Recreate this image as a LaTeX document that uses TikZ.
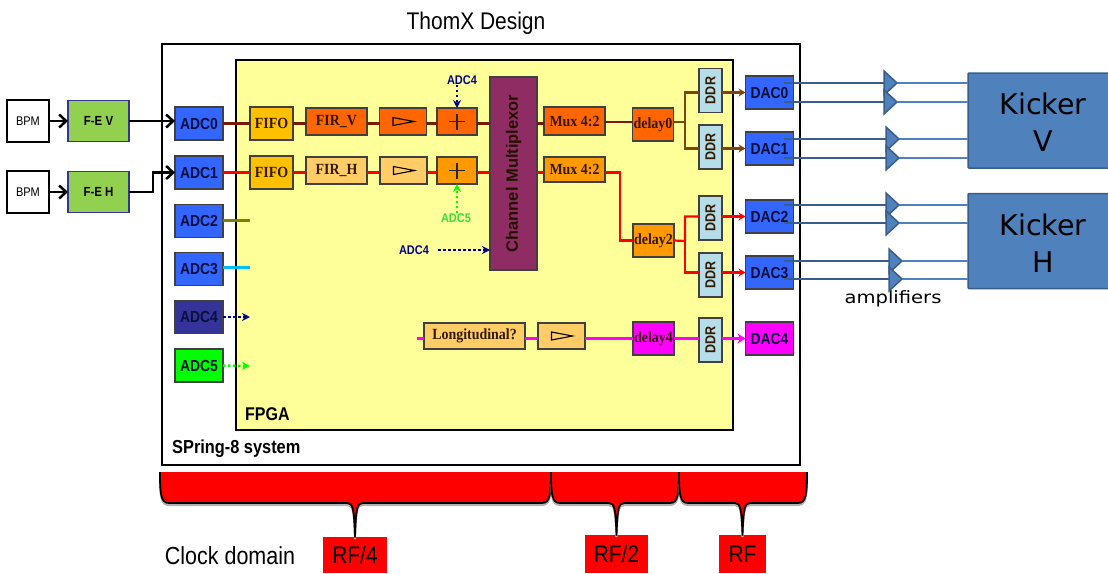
\documentclass[tikz,border=0pt]{standalone}
\usepackage{graphicx}
\usepackage{fontspec}
\setmainfont{Liberation Serif}[FakeStretch=0.9]
\setsansfont{Liberation Sans}[FakeStretch=0.87]
\newfontfamily\kickerfont{DejaVu Sans}
\newfontfamily\amplabelfont{DejaVu Sans}[FakeStretch=1.15]
\newfontfamily\chanfont{Liberation Sans}
\usetikzlibrary{arrows.meta, shapes.geometric}
\definecolor{myyellow1}{RGB}{255, 255, 153}
\definecolor{myblue1}{RGB}{51, 102, 255}
\definecolor{mynavy1}{RGB}{51, 51, 153}
\definecolor{mynavy2}{RGB}{0, 0, 140}
\definecolor{mygreen1}{RGB}{146, 208, 80}
\definecolor{mygreen2}{RGB}{0, 255, 0}
\definecolor{mygreen3}{RGB}{60, 220, 60}
\definecolor{myorange1}{RGB}{255, 102, 0}
\definecolor{myorange2}{RGB}{255, 153, 0}
\definecolor{myorange3}{RGB}{255, 204, 102}
\definecolor{mygold1}{RGB}{255, 192, 0}
\definecolor{mypurple1}{RGB}{144, 44, 100}
\definecolor{myddr1}{RGB}{183, 222, 232}
\definecolor{mysteel1}{RGB}{79, 129, 189}
\definecolor{mysteel2}{RGB}{56, 93, 138}
\definecolor{myinkblue1}{RGB}{10, 15, 60}
\definecolor{myink1}{RGB}{50, 25, 0}
\definecolor{mybrown1}{RGB}{122, 26, 0}
\definecolor{mybrown2}{RGB}{127, 70, 10}
\definecolor{mymagenta1}{RGB}{255, 0, 255}
\definecolor{myolive1}{RGB}{128, 128, 0}
\definecolor{mycyan1}{RGB}{0, 190, 240}
\definecolor{myred1}{RGB}{255, 0, 0}
\tikzset{
  box/.style={draw=black!75, line width=1.2, inner sep=0, outer sep=0},
  bpmbox/.style={box, draw=black, line width=2, fill=white, minimum width=42, minimum height=42, font=\sffamily\fontsize{12.6}{14}\selectfont},
  febox/.style={box, draw=mynavy1, line width=1.5, fill=mygreen1, minimum width=61, minimum height=41, font=\sffamily\bfseries\fontsize{13.2}{15}\selectfont},
  adcbox/.style={box, fill=myblue1, text=myinkblue1, minimum width=48, minimum height=33, font=\sffamily\bfseries\fontsize{16}{18}\selectfont},
  logicbox/.style={box, text=myink1, minimum height=27, font=\bfseries\fontsize{15.5}{18}\selectfont},
  ampbox/.style={box, minimum width=47, minimum height=27},
  plusbox/.style={box, minimum width=40, minimum height=27},
  delaybox/.style={logicbox, minimum width=41, minimum height=33},
  ddrbox/.style={box, fill=myddr1, text=myink1, minimum width=23, minimum height=44, font=\sffamily\bfseries\fontsize{14.4}{16}\selectfont},
  kickerbox/.style={draw=mysteel2, line width=1.5, fill=mysteel1, rounded corners=1, text=black, inner sep=0, outer sep=0, minimum width=150, minimum height=95, align=center, font=\kickerfont\fontsize{28.5}{37}\selectfont},
  ampli/.style={isosceles triangle, isosceles triangle stretches, draw=mysteel2, line width=1.5, fill=mysteel1, inner sep=0, outer sep=0, minimum width=24, minimum height=13, anchor=lower side},
  rfbox/.style={fill=myred1, inner sep=0, outer sep=0, minimum height=38, font=\sffamily\fontsize{24}{26}\selectfont},
  signal/.style={line width=2.2},
  tipped/.style={signal, -{Stealth[length=7, width=8]}},
  magenta line/.style={line width=3, mymagenta1},
  feed/.style={line width=2.5, dash pattern=on 2.5 off 2.5, -{Stealth[length=8, width=8]}},
  barbed/.style={line width=2.5, -{Straight Barb[length=7, width=13]}},
  tiny label/.style={inner sep=0, font=\sffamily\bfseries\fontsize{12.6}{14}\selectfont},
  bracefill/.style={preaction={draw=black!30, line width=2, transform canvas={yshift=-2pt}}, draw=black, line width=1.8, fill=myred1, line join=round}
}
\newcommand{\kickerstrut}{\rule{0pt}{25.5pt}}
\newcommand{\clockbrace}[4]{\draw[bracefill] (#1,472) .. controls (#1,495) and (#1+1,503) .. (#1+9,503) -- (#2-8,503) .. controls (#2-2,503) and (#2-1,508) .. (#4.north) .. controls (#2+1,508) and (#2+2,503) .. (#2+8,503) -- (#3-9,503) .. controls (#3-1,503) and (#3,495) .. (#3,472);}

\begin{document}
\begin{tikzpicture}[x=1pt, y=-1pt]
\useasboundingbox (0,0) rectangle (1108,573);

% --- Frames ---
\node at (476,23) [inner sep=0, font=\sffamily\fontsize{24.1}{26}\selectfont] (title) {ThomX Design};
\node at (481,254.5) [draw=black, line width=2.2, fill=white, minimum width=638, minimum height=421, inner sep=0, outer sep=0] (system) {};
\node at (484.5,245) [draw=black, line width=2.2, fill=myyellow1, minimum width=497, minimum height=370, inner sep=0, outer sep=0] (fpga) {};
\node at (245,414) [anchor=west, inner sep=0, font=\sffamily\bfseries\fontsize{18.4}{20}\selectfont] (fpgalabel) {FPGA};
\node at (172,449) [anchor=west, inner sep=0, font=\sffamily\bfseries\fontsize{18.8}{20}\selectfont] (systemlabel) {SPring-8 system};

% --- Front end ---
\node at (28,121) [bpmbox] (bpm0) {BPM};
\node at (28,192) [bpmbox] (bpm1) {BPM};
\node at (98.5,121) [febox] (fev) {F-E V};
\node at (98.5,192) [febox] (feh) {F-E H};

% --- ADCs ---
\node at (199,123.5) [adcbox] (adc0) {ADC0};
\node at (199,172.5) [adcbox] (adc1) {ADC1};
\node at (199,221) [adcbox] (adc2) {ADC2};
\node at (199,269) [adcbox] (adc3) {ADC3};
\node at (199,317) [adcbox, fill=mynavy1] (adc4) {ADC4};
\node at (199,365.5) [adcbox, fill=mygreen2] (adc5) {ADC5};

% --- First row ---
\node at (271.5,123.5) [logicbox, fill=mygold1, minimum width=43, minimum height=33] (fifo0) {FIFO};
\node at (336.5,121.5) [logicbox, fill=myorange1, minimum width=61] (firv) {FIR\_V};
\node at (403,121.5) [ampbox, fill=myorange1] (amp0) {};
\node at (457,121.5) [plusbox, fill=myorange1] (plus0) {};
\node at (574.5,121) [logicbox, fill=myorange1, minimum width=61, minimum height=28] (mux0) {Mux 4:2};
\node at (653,124.5) [delaybox, fill=myorange1] (delay0) {delay0};

% --- Second row ---
\node at (271.5,172.5) [logicbox, fill=mygold1, minimum width=43, minimum height=33] (fifo1) {FIFO};
\node at (336.5,170.5) [logicbox, fill=myorange3, minimum width=61] (firh) {FIR\_H};
\node at (403.5,170.5) [ampbox, fill=myorange3] (amp1) {};
\node at (457,170.5) [plusbox, fill=myorange2] (plus1) {};
\node at (574.5,169.5) [logicbox, fill=myorange2, minimum width=61, minimum height=25] (mux1) {Mux 4:2};
\node at (653.5,240.5) [delaybox, fill=myorange2] (delay2) {delay2};

% --- Multiplexor ---
\node at (513.5,173.5) [box, fill=mypurple1, text=myink1!70!black, minimum width=47, minimum height=193, font=\chanfont\bfseries\fontsize{16.5}{18}\selectfont] (chanmux) {\rotatebox{90}{Channel Multiplexor}};

% --- Longitudinal row ---
\node at (474.5,336) [logicbox, fill=myorange3, minimum width=101, minimum height=26] (longi) {Longitudinal?};
\node at (561.5,336) [ampbox, fill=myorange3, minimum height=26] (amp2) {};
\node at (653.5,338.5) [delaybox, fill=mymagenta1] (delay4) {delay4};

% --- DDR and DACs ---
\node at (710.5,90.5) [ddrbox] (ddr0) {\rotatebox{90}{DDR}};
\node at (710.5,147) [ddrbox] (ddr1) {\rotatebox{90}{DDR}};
\node at (710.5,218) [ddrbox] (ddr2) {\rotatebox{90}{DDR}};
\node at (710.5,275) [ddrbox] (ddr3) {\rotatebox{90}{DDR}};
\node at (710.5,340) [ddrbox] (ddr4) {\rotatebox{90}{DDR}};
\node at (769.5,92.5) [adcbox] (dac0) {DAC0};
\node at (769.5,148.5) [adcbox] (dac1) {DAC1};
\node at (769.5,216.5) [adcbox] (dac2) {DAC2};
\node at (769.5,272.5) [adcbox] (dac3) {DAC3};
\node at (769.5,338.5) [adcbox, fill=mymagenta1] (dac4) {DAC4};

% --- Kickers ---
\node at (1043,120.5) [kickerbox] (kickerv) {\kickerstrut Kicker\\V};
\node at (1043,241) [kickerbox] (kickerh) {\kickerstrut Kicker\\H};
\node at (893,299) [inner sep=0, font=\amplabelfont\fontsize{17}{20}\selectfont] (amplabel) {amplifiers};

% --- Glyphs in the boxes ---
\foreach \ampname in {amp0, amp1, amp2}
  \draw[line width=1.1] (\ampname.center) ++(-10,-4) -- ++(21,4) -- ++(-21,4) -- cycle;
\foreach \plusname in {plus0, plus1}
  \draw[line width=1.1, black!85] (\plusname.center) ++(-8,0) -- ++(16,0) (\plusname.center) ++(0,-8) -- ++(0,16);

% --- Signal chains ---
\foreach \from/\to in {adc0/fifo0, fifo0/firv, firv/amp0, amp0/plus0, plus0/chanmux, chanmux/mux0}
  \draw[signal, mybrown1] (\from.east |- adc0.east) -- (\to.west |- adc0.east);
\foreach \from/\to in {adc1/fifo1, fifo1/firh, firh/amp1, amp1/plus1, plus1/chanmux, chanmux/mux1}
  \draw[signal, myred1] (\from.east |- adc1.east) -- (\to.west |- adc1.east);
\coordinate (split0) at (685,122);
\coordinate (bend1) at (620,172.5);
\coordinate (split2) at (685,241);
\draw[signal, mybrown1] (mux0.east |- split0) -- (delay0.west |- split0);
\draw[signal, mybrown2] (delay0.east |- split0) -- (split0) |- (ddr0.west |- dac0.west);
\draw[signal, mybrown2] (split0) |- (ddr1.west |- dac1.west);
\draw[signal, myred1] (mux1.east |- bend1) -- (bend1) |- (delay2.west);
\draw[signal, myred1] (delay2.east) -- (split2) |- (ddr2.west |- dac2.west);
\draw[signal, myred1] (split2) |- (ddr3.west |- dac3.west);
\draw[tipped, mybrown2] (ddr0.east |- dac0.west) -- (dac0.west);
\draw[tipped, mybrown2] (ddr1.east |- dac1.west) -- (dac1.west);
\draw[tipped, myred1] (ddr2.east |- dac2.west) -- (dac2.west);
\draw[tipped, myred1] (ddr3.east |- dac3.west) -- (dac3.west);

% --- Longitudinal chain ---
\coordinate (longistart) at (417,338);
\draw[magenta line] (longistart) -- (longi.west |- longistart);
\foreach \from/\to in {longi/amp2, amp2/delay4, delay4/ddr4}
  \draw[magenta line] (\from.east |- longistart) -- (\to.west |- longistart);
\draw[magenta line, -{Stealth[length=8, width=10]}] (ddr4.east |- dac4.west) -- (dac4.west);

% --- Inputs ---
\draw[barbed] (bpm0) -- (fev);
\draw[barbed] (bpm1) -- (feh);
\draw[barbed] (fev.east) -- (adc0.west |- fev.east);
\coordinate (bendh) at (153,192);
\draw[barbed] (feh.east) -- (bendh) |- (adc1.west);

% --- Unused ADC outputs ---
\coordinate (stub2) at (250,220.5);
\coordinate (stub3) at (250,267.5);
\coordinate (stub4) at (250,317);
\coordinate (stub5) at (250,366);
\draw[signal, myolive1] (adc2.east |- stub2) -- (stub2);
\draw[signal, mycyan1] (adc3.east |- stub3) -- (stub3);
\draw[feed, mynavy2] (adc4.east) -- (stub4);
\draw[feed, mygreen2] (adc5.east) -- (stub5);

% --- Small feeds ---
\node at (462,80) [tiny label, text=mynavy2] (feed4top) {ADC4};
\node at (456,218) [tiny label, text=mygreen3] (feed5) {ADC5};
\node at (414,250) [tiny label, text=mynavy2] (feed4mid) {ADC4};
\draw[feed, mynavy2] (feed4top.south -| plus0.north) -- (plus0.north);
\draw[feed, mygreen2] (feed5.north -| plus1.south) -- (plus1.south);
\draw[feed, mynavy2] ([xshift=9]feed4mid.east) -- (chanmux.west |- feed4mid.east);

% --- Amplifiers ---
\foreach \ampid/\dacname/\kickname/\tx/\ty in {a/dac0/kickerv/884/83, b/dac0/kickerv/884/102, c/dac1/kickerv/886/139, d/dac1/kickerv/886/158, e/dac2/kickerh/886/205, f/dac2/kickerh/886/223, g/dac3/kickerh/889/261, h/dac3/kickerh/889/279} {
  \node at (\tx,\ty) [ampli] (tri\ampid) {};
  \draw[line width=2.2, mysteel2] (\dacname.east |- tri\ampid.lower side) ++(-10,0) -- (tri\ampid.lower side);
  \draw[line width=1.5, mysteel1] (tri\ampid.apex) -- (\kickname.west |- tri\ampid.apex);
}

% --- Clock domains ---
\node at (230,556) [inner sep=0, font=\sffamily\fontsize{24.7}{27}\selectfont] (clocklabel) {Clock domain};
\node at (355,555) [rfbox, minimum width=64, minimum height=36] (rf4) {RF/4};
\node at (616.5,554) [rfbox, minimum width=63] (rf2) {RF/2};
\node at (742.5,554) [rfbox, minimum width=47] (rf1) {RF};
\clockbrace{160}{355}{551}{rf4}
\clockbrace{551}{616.5}{679}{rf2}
\clockbrace{679}{742.5}{807}{rf1}
\end{tikzpicture}
\end{document}
